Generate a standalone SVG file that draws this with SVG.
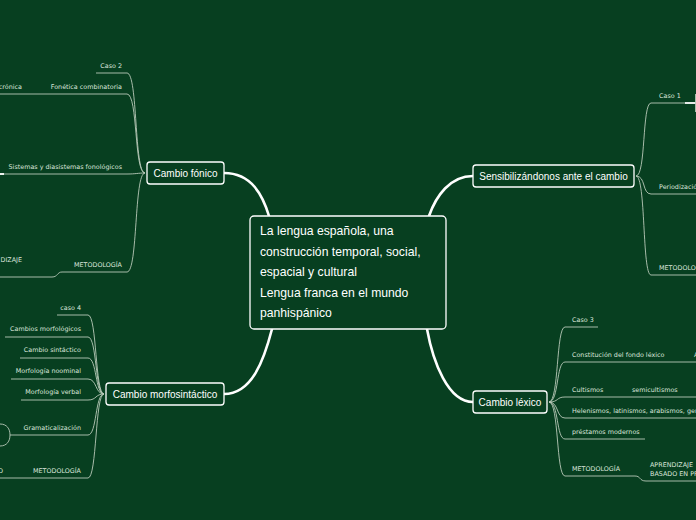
<svg xmlns="http://www.w3.org/2000/svg" width="696" height="520" viewBox="0 0 696 520">
<style>
.bg{fill:#073f20}
.node rect{fill:#073f20;stroke:#ffffff;stroke-width:1.3}
.nt{font-family:"Liberation Sans","DejaVu Sans",sans-serif;fill:#ffffff;font-size:10px}
.ct{font-family:"Liberation Sans","DejaVu Sans",sans-serif;fill:#ffffff;font-size:12.2px}
.lbl{font-family:"DejaVu Sans","Liberation Sans",sans-serif;fill:#dce6dc;font-size:6.4px}
.main{fill:none;stroke:#ffffff;stroke-width:2.6;stroke-linecap:round}
.sub{fill:none;stroke:#b9cab9;stroke-width:0.9}
.gc{fill:none;stroke:#ffffff;stroke-width:1.8}
</style>
<rect class="bg" width="696" height="520"/>
<g id="connectors">
  <path class="main" d="M224 173 C252 173 263 196 269 216"/>
  <path class="main" d="M224 394 C252 394 264 360 272 329"/>
  <path class="main" d="M473 176 C450 176 436 196 429 216"/>
  <path class="main" d="M473 402 C448 402 433 362 427 329"/>
  <path class="sub" d="M145 173 C134 173 138 73 127 73 L96 73"/>
  <path class="sub" d="M145 173 C134 173 138 94 127 94 L0 94"/>
  <path class="sub" d="M145 173 C138 173 136 174 127 174 L0 174"/>
  <path class="sub" d="M145 173 C134 173 138 272 127 272 L62 272 C57 272 58 277 52 277 L0 277"/>
  <path class="gc" d="M0 174 L4 174"/>
  <path class="sub" d="M104 394 C95 394 97 315 88 315 L57 315"/>
  <path class="sub" d="M104 394 C95 394 97 337 88 337 L5 337"/>
  <path class="sub" d="M104 394 C95 394 97 358 88 358 L20 358"/>
  <path class="sub" d="M104 394 C95 394 97 379 88 379 L11 379"/>
  <path class="sub" d="M104 394 C95 394 97 400 88 400 L21 400"/>
  <path class="sub" d="M104 394 C95 394 97 435 88 435 L10 435"/>
  <path class="sub" d="M104 394 C95 394 97 478 88 478 L0 478"/>
  <path class="sub" d="M0 424 C7 424 10 429 10 435 C10 441 7 446 0 446"/>
  <path class="sub" d="M636 176 C646 176 642 103 651 103 L685 103"/>
  <path class="sub" d="M636 176 C646 176 642 194 651 194 L696 194"/>
  <path class="sub" d="M636 176 C646 176 642 275 651 275 L696 275"/>
  <path class="gc" d="M685 103 L696 103"/>
  <path class="sub" d="M695.5 94 L695.5 112"/>
  <path class="sub" d="M549 402 C559 402 556 327 565 327 L598 327"/>
  <path class="sub" d="M549 402 C559 402 556 362 565 362 L696 362"/>
  <path class="sub" d="M549 402 C559 402 556 397 565 397 L696 397"/>
  <path class="sub" d="M549 402 C559 402 556 418 565 418 L696 418"/>
  <path class="sub" d="M549 402 C559 402 556 439 565 439 L645 439"/>
  <path class="sub" d="M549 402 C559 402 556 476 565 476 L635 476 C641 476 639 481 646 481 L696 481"/>
</g>
<g id="central" class="node">
  <rect x="250" y="216" width="196" height="113" rx="4"/>
  <text class="ct" x="260" y="235">La lengua española, una</text>
  <text class="ct" x="260" y="255.5">construcción temporal, social,</text>
  <text class="ct" x="260" y="276">espacial y cultural</text>
  <text class="ct" x="260" y="296.5">Lengua franca en el mundo</text>
  <text class="ct" x="260" y="317">panhispánico</text>
</g>
<g id="cambio-fonico" class="node">
  <rect x="147" y="162" width="77" height="22" rx="3"/>
  <text class="nt" x="185.5" y="176.5" text-anchor="middle">Cambio fónico</text>
</g>
<g id="cambio-morfosintactico" class="node">
  <rect x="106" y="383" width="118" height="22" rx="3"/>
  <text class="nt" x="165" y="397.5" text-anchor="middle">Cambio morfosintáctico</text>
</g>
<g id="sensibilizandonos" class="node">
  <rect x="473" y="165" width="161" height="22" rx="3"/>
  <text class="nt" x="553.5" y="179.5" text-anchor="middle">Sensibilizándonos ante el cambio</text>
</g>
<g id="cambio-lexico" class="node">
  <rect x="473" y="391" width="74" height="22" rx="3"/>
  <text class="nt" x="510" y="405.5" text-anchor="middle">Cambio léxico</text>
</g>
<g id="fonico-children">
  <text class="lbl" x="122" y="68" text-anchor="end">Caso 2</text>
  <text class="lbl" x="122" y="89" text-anchor="end">Fonética combinatoria</text>
  <text class="lbl" x="22" y="89" text-anchor="end">crónica</text>
  <text class="lbl" x="122" y="169" text-anchor="end">Sistemas y diasistemas fonológicos</text>
  <text class="lbl" x="122" y="267" text-anchor="end">METODOLOGÍA</text>
  <text class="lbl" x="22" y="262" text-anchor="end">DIZAJE</text>
</g>
<g id="morfo-children">
  <text class="lbl" x="81" y="310" text-anchor="end">caso 4</text>
  <text class="lbl" x="81" y="331" text-anchor="end">Cambios morfológicos</text>
  <text class="lbl" x="81" y="352" text-anchor="end">Cambio sintáctico</text>
  <text class="lbl" x="81" y="373" text-anchor="end">Morfología noominal</text>
  <text class="lbl" x="81" y="394" text-anchor="end">Morfología verbal</text>
  <text class="lbl" x="81" y="430" text-anchor="end">Gramaticalización</text>
  <text class="lbl" x="81" y="473" text-anchor="end">METODOLOGÍA</text>
  <text class="lbl" x="3" y="473" text-anchor="end">O</text>
</g>
<g id="sensib-children">
  <text class="lbl" x="659" y="98">Caso 1</text>
  <text class="lbl" x="659" y="189">Periodización</text>
  <text class="lbl" x="659" y="270">METODOLOGÍA</text>
</g>
<g id="lexico-children">
  <text class="lbl" x="572" y="322">Caso 3</text>
  <text class="lbl" x="572" y="357">Constitución del fondo léxico</text>
  <text class="lbl" x="694" y="357">A</text>
  <text class="lbl" x="572" y="392">Cultismos</text>
  <text class="lbl" x="632" y="392">semicultismos</text>
  <text class="lbl" x="572" y="413">Helenismos, latinismos, arabismos, germanismos</text>
  <text class="lbl" x="572" y="434">préstamos modernos</text>
  <text class="lbl" x="572" y="471">METODOLOGÍA</text>
  <text class="lbl" x="650" y="467">APRENDIZAJE</text>
  <text class="lbl" x="650" y="476">BASADO EN PROYECTOS</text>
</g>
</svg>
